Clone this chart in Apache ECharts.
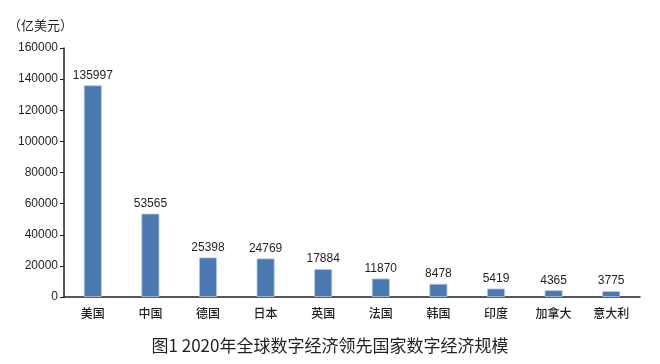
<!DOCTYPE html>
<html><head><meta charset="utf-8">
<script src="https://cdn.jsdelivr.net/npm/echarts@6/dist/echarts.min.js"></script>
<style>html,body{margin:0;padding:0;background:#fff}#c{width:660px;height:364px}</style>
</head><body><div id="c"></div>
<script>
const categories = ['美国','中国','德国','日本','英国','法国','韩国','印度','加拿大','意大利'];
const values = [135997, 53565, 25398, 24769, 17884, 11870, 8478, 5419, 4365, 3775];
const yTicks = { min: 0, max: 160000, interval: 20000 };
const unitLabel = '（亿美元）';
const titleText = '图1 2020年全球数字经济领先国家数字经济规模';

const chart = echarts.init(document.getElementById('c'), null, {renderer:'canvas'});
chart.setOption({
  animation: false,
  backgroundColor: '#fff',
  title: {
    text: titleText, left: 'center', top: 332,
    textStyle: { fontFamily: 'Noto Sans CJK SC', fontSize: 17, fontWeight: 'normal', color: '#231f20' }
  },
  graphic: [{
    type: 'text', left: 8, top: 19,
    style: { text: unitLabel, font: '13px "Noto Sans CJK SC"', fill: '#231f20' }
  }],
  grid: { left: 64, right: 20, top: 48, bottom: 67, containLabel: false },
  xAxis: {
    type: 'category', data: categories,
    axisLine: { lineStyle: { color: '#231f20', width: 1.5 } },
    axisTick: { show: false },
    axisLabel: { color: '#231f20', fontSize: 12, fontFamily: 'Noto Sans CJK SC', fontWeight: 500, margin: 10 }
  },
  yAxis: {
    type: 'value', min: yTicks.min, max: yTicks.max, interval: yTicks.interval,
    splitLine: { show: false },
    axisLine: { show: true, lineStyle: { color: '#231f20', width: 1.5 } },
    axisTick: { show: true, length: 4, lineStyle: { color: '#231f20' } },
    axisLabel: { color: '#231f20', fontSize: 12, fontFamily: 'Liberation Sans, Arial', margin: 6,
      formatter: v => String(v) }
  },
  series: [{
    type: 'bar', data: values, barWidth: 18,
    itemStyle: { color: '#4a78b1', borderColor: '#b9cce4', borderWidth: 0.8 },
    label: { show: true, position: 'top', distance: 4, color: '#231f20', fontSize: 12, fontFamily: 'Liberation Sans, Arial' }
  }]
});
</script></body></html>
